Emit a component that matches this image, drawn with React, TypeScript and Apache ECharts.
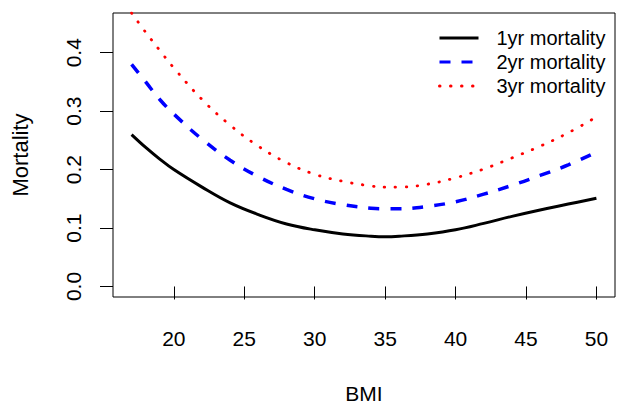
import React, { useEffect, useRef } from "react";
import * as echarts from "echarts";

const bmi = [17, 18, 19, 20, 22, 24, 26, 28, 30, 32, 34, 35, 36, 38, 40, 42, 44, 46, 48, 50];
const mort1yr = [0.26, 0.238, 0.218, 0.2, 0.17, 0.143, 0.123, 0.107, 0.097, 0.09, 0.086, 0.085, 0.086, 0.09, 0.097, 0.108, 0.12, 0.131, 0.141, 0.151];
const mort2yr = [0.38, 0.35, 0.32, 0.295, 0.252, 0.216, 0.188, 0.166, 0.15, 0.14, 0.134, 0.133, 0.133, 0.137, 0.145, 0.158, 0.173, 0.19, 0.208, 0.23];
const mort3yr = [0.468, 0.435, 0.404, 0.374, 0.32, 0.276, 0.24, 0.212, 0.192, 0.18, 0.172, 0.17, 0.17, 0.175, 0.186, 0.201, 0.22, 0.24, 0.263, 0.29];
const xTicks = [20, 25, 30, 35, 40, 45, 50];
const yTicks = [0, 0.1, 0.2, 0.3, 0.4];
const seriesNames = ["1yr mortality", "2yr mortality", "3yr mortality"];

const FONT = "Liberation Sans, Arial, sans-serif";

export default function App() {
  const ref = useRef<HTMLDivElement>(null);
  useEffect(() => {
    if (!ref.current) return;
    const chart = echarts.init(ref.current, undefined, { renderer: "svg" });
    const toPairs = (ys: number[]) => bmi.map((x, i) => [x, ys[i]]);
    chart.setOption({
      animation: false,
      backgroundColor: "#fff",
      textStyle: { fontFamily: FONT },
      grid: {
        left: 113,
        right: 6,
        top: 13,
        bottom: 108,
        show: true,
        borderColor: "#000",
        borderWidth: 1,
        backgroundColor: "transparent",
      },
      legend: {
        orient: "vertical",
        left: 433,
        top: 23,
        itemWidth: 39,
        itemHeight: 14,
        itemGap: 4,
        itemStyle: { opacity: 0 },
        lineStyle: { width: 3 },
        textStyle: { fontSize: 20, color: "#000", fontFamily: FONT, padding: [0, 0, 0, 13], lineHeight: 20 },
        data: seriesNames,
      },
      xAxis: {
        type: "value",
        min: 15.68,
        max: 51.32,
        name: "BMI",
        nameLocation: "middle",
        nameGap: 86,
        nameTextStyle: { fontSize: 21, color: "#000", fontFamily: FONT },
        axisLine: { show: false },
        splitLine: { show: false },
        axisTick: { show: true, inside: false, length: 13, lineStyle: { color: "#000", width: 1 }, customValues: xTicks },
        axisLabel: { fontSize: 21, color: "#000", margin: 31, fontFamily: FONT, customValues: xTicks },
      },
      yAxis: {
        type: "value",
        min: -0.018,
        max: 0.468,
        name: "Mortality",
        nameLocation: "middle",
        nameGap: 82,
        nameTextStyle: { fontSize: 22, color: "#000", fontFamily: FONT },
        axisLine: { show: false },
        splitLine: { show: false },
        axisTick: { show: true, inside: false, length: 13, lineStyle: { color: "#000", width: 1 }, customValues: yTicks },
        axisLabel: {
          fontSize: 21,
          color: "#000",
          margin: 29,
          rotate: 90,
          fontFamily: FONT,
          customValues: yTicks,
          formatter: (v: number) => v.toFixed(1),
        },
      },
      series: [
        {
          name: seriesNames[0],
          type: "line",
          data: toPairs(mort1yr),
          smooth: 0.4,
          showSymbol: false,
          symbol: "none",
          lineStyle: { color: "#000", width: 3 },
          itemStyle: { color: "#000" },
        },
        {
          name: seriesNames[1],
          type: "line",
          data: toPairs(mort2yr),
          smooth: 0.4,
          showSymbol: false,
          symbol: "none",
          lineStyle: { color: "#0000ff", width: 3.5, type: [11, 11] },
          itemStyle: { color: "#0000ff" },
        },
        {
          name: seriesNames[2],
          type: "line",
          data: toPairs(mort3yr),
          smooth: 0.4,
          showSymbol: false,
          symbol: "none",
          lineStyle: { color: "#ff0000", width: 2.8, type: [0.5, 10.5], cap: "round" },
          itemStyle: { color: "#ff0000" },
        },
      ],
    });
    return () => chart.dispose();
  }, []);
  return <div ref={ref} style={{ width: 621, height: 409, position: "absolute", left: 0, top: 0 }} />;
}
